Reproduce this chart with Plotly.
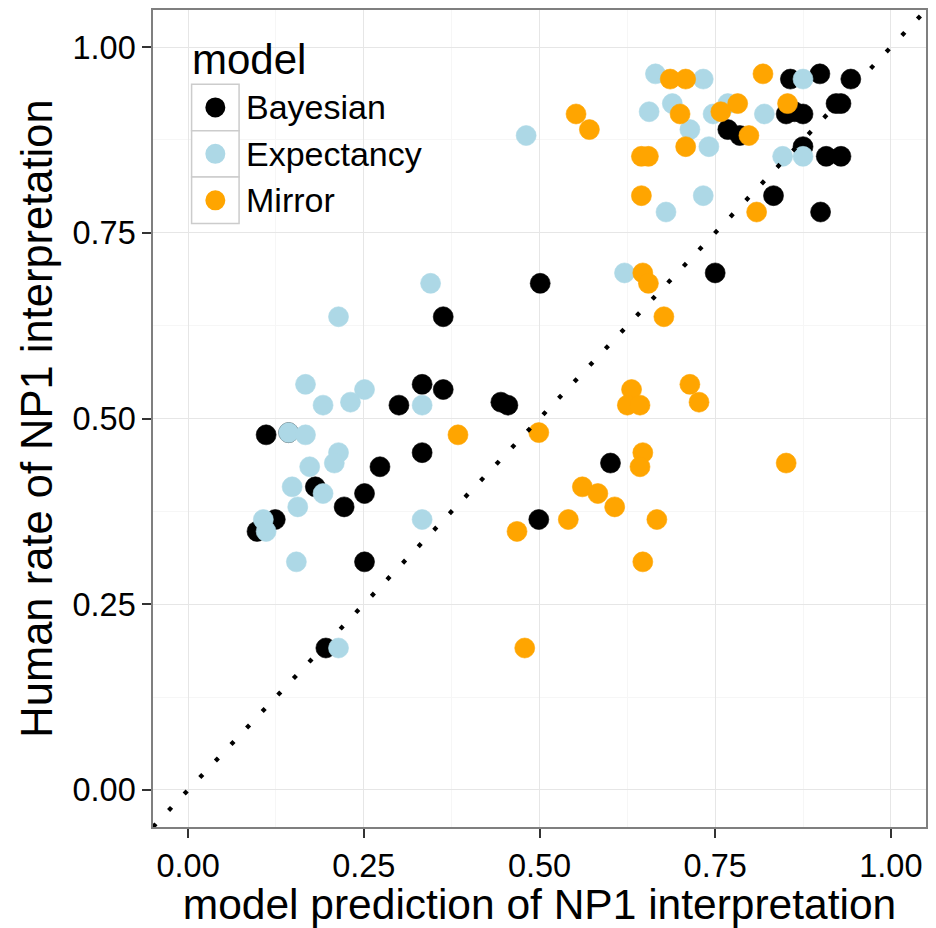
import plotly.graph_objects as go

# Human rate of NP1 interpretation, one value per item
human = [
    0.964, 0.957, 0.957, 0.924, 0.924, 0.913, 0.910, 0.910, 0.889, 0.881,
    0.866, 0.853, 0.853, 0.800, 0.778, 0.696, 0.682,
    0.637, 0.546, 0.539, 0.522, 0.518, 0.518, 0.481, 0.478, 0.454,
    0.440, 0.435, 0.408, 0.399, 0.381, 0.364, 0.364, 0.348, 0.307, 0.191,
]

# Model predictions of NP1 interpretation for the same items
bayesian = [
    0.899, 0.857, 0.943, 0.922, 0.929, 0.863, 0.851, 0.875, 0.768, 0.785,
    0.875, 0.908, 0.929, 0.833, 0.900, 0.750, 0.501,
    0.363, 0.333, 0.363, 0.445, 0.300, 0.455, 0.143, 0.111, 0.333,
    0.601, 0.273, 0.181, 0.251, 0.222, 0.124, 0.499, 0.098, 0.251, 0.196,
]
expectancy = [
    0.665, 0.733, 0.875, 0.689, 0.768, 0.656, 0.747, 0.820, 0.714, 0.481,
    0.741, 0.846, 0.875, 0.733, 0.680, 0.621, 0.345,
    0.214, 0.167, 0.251, 0.231, 0.192, 0.333, 0.143, 0.167, 0.214,
    0.208, 0.173, 0.148, 0.192, 0.156, 0.107, 0.333, 0.111, 0.154, 0.214,
]
mirror = [
    0.818, 0.686, 0.708, 0.782, 0.853, 0.758, 0.552, 0.700, 0.571, 0.798,
    0.708, 0.645, 0.655, 0.645, 0.809, 0.647, 0.655,
    0.677, 0.714, 0.631, 0.727, 0.625, 0.643, 0.499, 0.384, 0.647,
    0.851, 0.643, 0.561, 0.583, 0.607, 0.541, 0.667, 0.468, 0.647, 0.479,
]

models = ["Bayesian", "Expectancy", "Mirror"]
colors = ["black", "lightblue", "orange"]
predictions = [bayesian, expectancy, mirror]

tick_vals = [0.0, 0.25, 0.5, 0.75, 1.0]
tick_text = ["0.00", "0.25", "0.50", "0.75", "1.00"]
axis_range = [-0.05, 1.05]

FONT = "Liberation Sans, Arial, Helvetica, sans-serif"

fig = go.Figure()

for name, color, xs in zip(models, colors, predictions):
    fig.add_trace(go.Scatter(
        x=xs, y=human, mode="markers", name=name,
        marker=dict(color=color, size=20, line=dict(color=color, width=0.6)),
        showlegend=False,
    ))

# identity line y = x, dotted
fig.add_trace(go.Scatter(
    x=axis_range, y=axis_range, mode="lines",
    line=dict(color="black", width=4.3, dash="4.3px,18.4px"),
    showlegend=False, hoverinfo="skip",
))

axis_common = dict(
    range=axis_range, tickmode="array", tickvals=tick_vals, ticktext=tick_text,
    showgrid=True, gridcolor="#e6e6e6", gridwidth=1.4,
    minor=dict(tick0=0.125, dtick=0.25, showgrid=True,
               gridcolor="#f6f6f6", gridwidth=1.4),
    zeroline=False, showline=True, linecolor="#7f7f7f", linewidth=1.5,
    mirror=True, ticks="outside", ticklen=9, tickwidth=1.5,
    tickcolor="#333333", tickfont=dict(family=FONT, size=32.5, color="black"),
)

fig.update_xaxes(
    **axis_common,
    title=dict(text="model prediction of NP1 interpretation",
               font=dict(family=FONT, size=42.5, color="black"), standoff=5),
)
fig.update_yaxes(
    **axis_common,
    title=dict(text="Human rate of NP1 interpretation",
               font=dict(family=FONT, size=43.5, color="black"), standoff=6),
)

# legend: title, keyed boxes with round symbols, labels
L, R, T, B = 153, 8, 9, 101
W, H = 936, 928
pw, ph = W - L - R, H - T - B


def px_x(p):
    return (p - L) / pw


def px_y(p):
    return (H - B - p) / ph


shapes = []
annotations = [dict(
    text="model", x=px_x(190), y=px_y(59), xref="paper", yref="paper",
    xanchor="left", yanchor="middle", showarrow=False,
    font=dict(family=FONT, size=42, color="black"),
)]
key_top, key_h = 83.3, 46.5
for i, (name, color) in enumerate(zip(models, colors)):
    y0 = key_top + i * key_h
    shapes.append(dict(
        type="rect", xref="paper", yref="paper",
        x0=px_x(191.7), x1=px_x(239.3), y0=px_y(y0 + key_h), y1=px_y(y0),
        line=dict(color="#cccccc", width=1.5), fillcolor="white", layer="above",
    ))
    cy = px_y(y0 + key_h / 2)
    shapes.append(dict(
        type="circle", xref="paper", yref="paper",
        xsizemode="pixel", ysizemode="pixel",
        xanchor=px_x(215.5), yanchor=cy, x0=-10, x1=10, y0=-10, y1=10,
        line=dict(width=0), fillcolor=color, layer="above",
    ))
    annotations.append(dict(
        text=name, x=px_x(244.5), y=cy, xref="paper", yref="paper",
        xanchor="left", yanchor="middle", showarrow=False,
        font=dict(family=FONT, size=34, color="black"),
    ))

fig.update_layout(
    width=W, height=H,
    margin=dict(l=L, r=R, t=T, b=B),
    paper_bgcolor="white", plot_bgcolor="white",
    shapes=shapes, annotations=annotations,
    showlegend=False,
)

fig.write_html("out.html")
